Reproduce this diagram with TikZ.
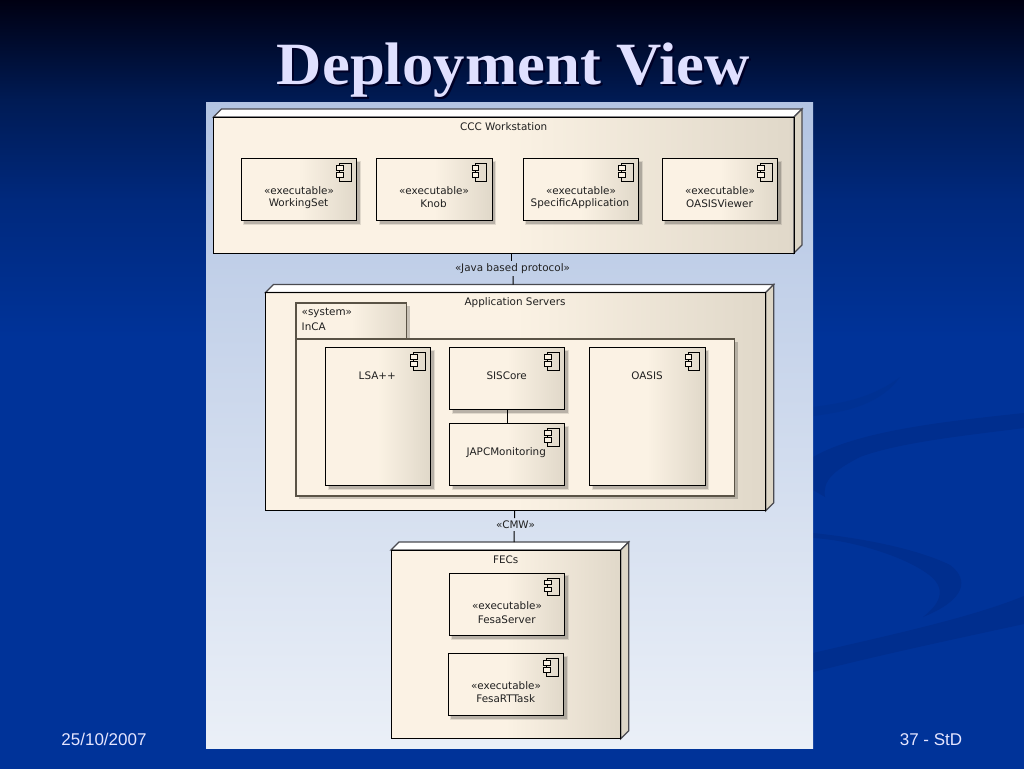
\documentclass[tikz,border=0pt]{standalone}
\usepackage{fontspec}
\setmainfont{Liberation Sans}
\newfontfamily\titlefont[FakeStretch=1.045]{Liberation Serif}
\newfontfamily\umlfont{DejaVu Sans}
\usetikzlibrary{calc}
\definecolor{cream}{HTML}{FBF2E4}
\definecolor{tan}{HTML}{E0D8C9}
\definecolor{sidetan}{HTML}{DDD6C6}
\definecolor{edgegray}{HTML}{4A4A50}
\definecolor{pkgedge}{HTML}{5A5346}
\definecolor{swoosh}{HTML}{002E8E}
\definecolor{swooshfaint}{HTML}{003193}
\definecolor{ink}{HTML}{202020}
\pgfdeclareverticalshading{slidebg}{100bp}{
  rgb(0bp)=(0,0.2,0.6);
  rgb(25bp)=(0,0.2,0.6);
  rgb(53bp)=(0,0.2,0.6);
  rgb(62bp)=(0,0.16,0.49);
  rgb(68.5bp)=(0,0.105,0.33);
  rgb(72.5bp)=(0,0.04,0.17);
  rgb(75bp)=(0,0,0.07);
  rgb(100bp)=(0,0,0.07)}
\pgfdeclareverticalshading{panelbg}{100bp}{
  rgb(0bp)=(0.92,0.94,0.97);
  rgb(25bp)=(0.92,0.94,0.97);
  rgb(75bp)=(0.70,0.77,0.89);
  rgb(100bp)=(0.70,0.77,0.89)}
\pgfdeclarehorizontalshading{eagrad}{100bp}{
  color(0bp)=(cream);
  color(25bp)=(cream);
  color(50bp)=(cream);
  color(75bp)=(tan);
  color(100bp)=(tan)}
\tikzset{
  x=1pt,y=-1pt,
  boxbase/.style={rectangle,inner sep=0pt,outer sep=0pt,anchor=north west,line width=1pt,draw=black},
  comp/.style={boxbase,shading=eagrad},
  depnode/.style={boxbase,shading=eagrad},
  umltext/.style={font=\umlfont\fontsize{10.4}{12}\selectfont,text=ink,inner sep=0pt,outer sep=0pt,anchor=center},
  umlleft/.style={umltext,anchor=west},
  conn/.style={draw=black,line width=1pt},
  foot/.style={font=\fontsize{17}{19}\selectfont,text=white!90!blue,inner sep=0pt,anchor=center},
  iconpart/.style={draw=black,line width=.9pt},
  iconfill/.style={iconpart,fill=cream},
  depth/.style={draw=edgegray,line width=1.2pt},
  shadowpart/.style={fill=black,draw=none},
  titletext/.style={font=\titlefont\bfseries\fontsize{60}{64}\selectfont,inner sep=0pt,anchor=base}
}
% name, x, y, w, h
\newcommand{\compbox}[5]{%
  \fill[shadowpart,opacity=.10] (#2+2,#3+2) rectangle (#2+#4+4,#3+#5+4);
  \fill[shadowpart,opacity=.18] (#2+3,#3+3) rectangle (#2+#4+3,#3+#5+3);
  \node[comp,minimum width=#4pt,minimum height=#5pt] (#1) at (#2,#3) {};
  \draw[iconpart] ([shift={(-17,5.2)}]#1.north east) rectangle ([shift={(-5.3,22.5)}]#1.north east);
  \draw[iconfill] ([shift={(-20,7.2)}]#1.north east) rectangle ([shift={(-13.3,11.8)}]#1.north east);
  \draw[iconfill] ([shift={(-20,14.2)}]#1.north east) rectangle ([shift={(-13.3,18.8)}]#1.north east);
}
\newcommand{\nodebox}[5]{%
  \node[depnode,minimum width=#4pt,minimum height=#5pt] (#1) at (#2,#3) {};
  \filldraw[depth,fill=white] (#1.north west) -- ([shift={(8,-8)}]#1.north west) -- ([shift={(8,-8)}]#1.north east) -- (#1.north east) -- cycle;
  \filldraw[depth,fill=sidetan] (#1.north east) -- ([shift={(8,-8)}]#1.north east) -- ([shift={(8,-8)}]#1.south east) -- (#1.south east) -- cycle;
  \draw[line width=1pt,black] (#1.north west) -- (#1.north east) -- (#1.south east) -- (#1.south west) -- cycle;
}
\begin{document}
\begin{tikzpicture}
\useasboundingbox (0,0) rectangle (1024,768);
\shade[shading=slidebg] (0,0) rectangle (1024,768);
% background swooshes
\fill[swooshfaint] (813,407) .. controls (835,404) and (870,400) .. (900,377) .. controls (880,405) and (845,412) .. (813,416) -- cycle;
\fill[swoosh] (1024,413) .. controls (950,421) and (860,430) .. (813,457) -- (813,490) -- (825,497) .. controls (822,480) and (835,470) .. (860,457) .. controls (900,442) and (970,435) .. (1024,428) -- cycle;
\fill[swoosh] (813,533) .. controls (860,538) and (915,548) .. (950,565) .. controls (970,580) and (965,600) .. (923,617) .. controls (945,600) and (945,585) .. (925,572) .. controls (900,555) and (850,540) .. (813,538) -- cycle;
\fill[swoosh] (813,653) .. controls (890,635) and (970,618) .. (1024,596) -- (1024,624) .. controls (950,640) and (880,655) .. (813,672) -- cycle;
% panel
\shade[shading=panelbg] (206,102) rectangle (813,748);
% title
\node[titletext,text=black!85!blue] (titleshadow) at (515.5,86) {Deployment View};
\node[titletext,text=white!88!blue] (title) at (513.5,84) {Deployment View};
% CCC Workstation
\nodebox{ccc}{213.5}{117}{580.5}{136}
\node[umltext] (ccctitle) at (503.7,127) {CCC Workstation};
\compbox{ws}{241}{158.5}{115.7}{62}
\compbox{knob}{376.5}{158.5}{115.7}{62}
\compbox{spec}{523}{158.5}{115.5}{62}
\compbox{ov}{662.2}{158.5}{115.5}{62}
\node[umltext] (ws1) at (299,190.3) {«executable»};
\node[umltext] (ws2) at (298.5,204) {WorkingSet};
\node[umltext] (kn1) at (434,190.3) {«executable»};
\node[umltext] (kn2) at (433.5,204) {Knob};
\node[umltext] (sp1) at (581,190.3) {«executable»};
\node[umltext] (sp2) at (580,204) {SpecificApplication};
\node[umltext] (ov1) at (720,190.3) {«executable»};
\node[umltext] (ov2) at (719.5,204) {OASISViewer};
% Application servers
\nodebox{app}{265.5}{292.5}{500.2}{218.2}
\node[umltext] (apptitle) at (515,302.3) {Application Servers};
% InCA package
\fill[shadowpart,opacity=.2] (299,342) rectangle (738,499);
\fill[shadowpart,opacity=.2] (406.5,306) rectangle (409.5,339);
\node[boxbase,draw=pkgedge,line width=1.3pt,shading=eagrad,minimum width=110.5pt,minimum height=36pt] (incatab) at (296,303) {};
\node[boxbase,draw=pkgedge,line width=1.3pt,fill=cream,minimum width=438.7pt,minimum height=157pt] (incabody) at (296,339) {};
\node[umlleft] (inca1) at (301.7,313) {«system»};
\node[umlleft] (inca2) at (301.7,326.7) {InCA};
\compbox{lsa}{325.5}{347.5}{105}{138.2}
\compbox{sis}{449.5}{347.5}{115.2}{62.2}
\compbox{japc}{449.5}{423.5}{115.2}{62.2}
\compbox{oasis}{589.5}{347.5}{115.5}{138.2}
\node[umltext] (lsalab) at (377.3,376) {LSA++};
\node[umltext] (sislab) at (506.7,376) {SISCore};
\node[umltext] (japclab) at (506.3,452.3) {JAPCMonitoring};
\node[umltext] (oasislab) at (647,376) {OASIS};
\draw[conn] (sis.south) -- (japc.north);
% FECs
\nodebox{fec}{391}{550}{229.7}{188.7}
\node[umltext] (fectitle) at (505.7,559.7) {FECs};
\compbox{fs}{449}{573}{115.7}{62.7}
\compbox{frt}{448}{653.5}{115.7}{62.2}
\node[umltext] (fs1) at (507,605.7) {«executable»};
\node[umltext] (fs2) at (506.7,619.3) {FesaServer};
\node[umltext] (frt1) at (506,685.7) {«executable»};
\node[umltext] (frt2) at (505.7,699) {FesaRTTask};
% connectors
\node[umltext,minimum height=15pt] (java) at (512.5,268.5) {«Java based protocol»};
\node[umltext,minimum height=13pt] (cmw) at (515.5,524.7) {«CMW»};
\draw[conn] ([xshift=7.75pt]ccc.south) -- ([xshift=-1pt]java.north);
\draw[conn] ([xshift=.5pt]java.south) -- ([shift={(-2.6,-8)}]app.north);
\draw[conn] ([xshift=-1.1pt]app.south) -- ([xshift=-1pt]cmw.north);
\draw[conn] ([xshift=-1.5pt]cmw.south) -- ([shift={(8.15,-8)}]fec.north);
% footer
\node[foot] (date) at (104,739) {25/10/2007};
\node[foot] (page) at (931,740) {37 - StD};
\end{tikzpicture}
\end{document}
